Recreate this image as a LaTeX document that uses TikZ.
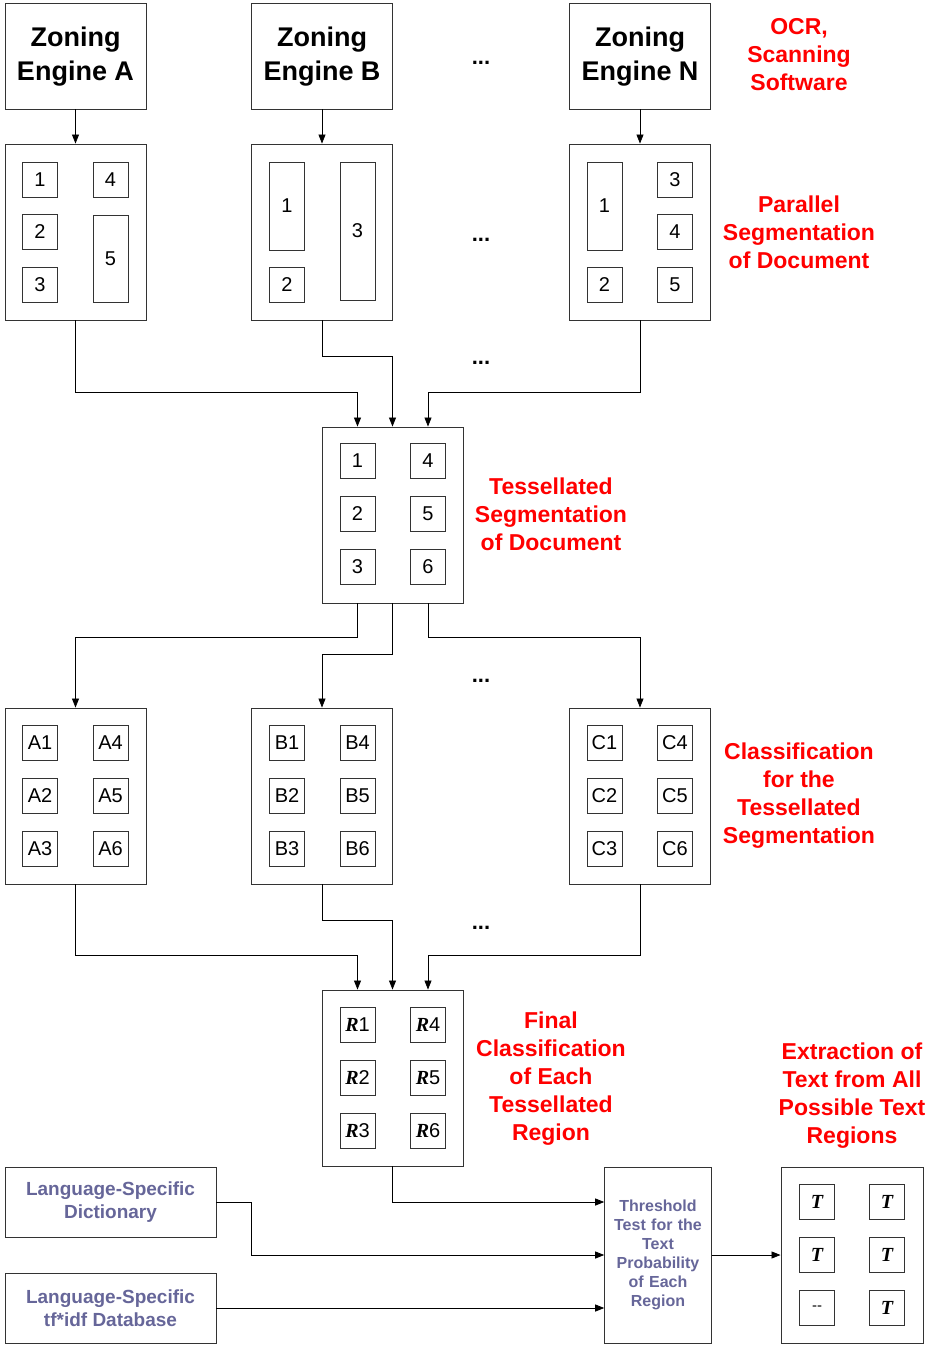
\documentclass[tikz,border=0pt]{standalone}
\usepackage{fontspec}
\setmainfont{Liberation Sans}
\newfontfamily\markfont{Liberation Serif}
\usepackage{xcolor}
\usetikzlibrary{arrows.meta, positioning, calc}

\definecolor{steptext}{RGB}{255,0,0}
\definecolor{dbtext}{RGB}{102,102,153}

\newcommand{\rmark}{{\markfont\bfseries\itshape R}}
\newcommand{\tmark}{{\markfont\bfseries\itshape T}}

\begin{document}
\begin{tikzpicture}[x=1pt, y=-1pt,
  engine/.style={draw=black!80, line width=0.9pt, minimum width=141pt, minimum height=106pt,
    align=center, font=\fontsize{27}{34}\selectfont\bfseries},
  page/.style={draw=black!80, line width=0.9pt, minimum width=141pt, minimum height=176pt},
  cell/.style={draw=black!80, line width=0.9pt, minimum width=35pt, minimum height=35pt,
    inner sep=0pt, font=\fontsize{20}{24}\selectfont},
  tallcell/.style={cell, minimum height=88pt},
  steplabel/.style={text=steptext, align=center, font=\fontsize{23}{28}\selectfont\bfseries},
  dots/.style={anchor=base, font=\fontsize{22}{26}\selectfont\bfseries},
  source/.style={draw=black!80, line width=0.9pt, minimum width=211pt, minimum height=70pt,
    align=center, text=dbtext, font=\fontsize{19}{23}\selectfont\bfseries},
  conn/.style={draw=black, line width=0.8pt, -{Triangle[length=9pt, width=7pt]}}
]
\useasboundingbox (0,0) rectangle (930,1345);

% Zoning engines
\node[engine] (engA) at (75.5,56) {};
\node[engine] (engB) at (322,56) {};
\node[engine] (engN) at (640,56) {};
\node[align=center, font=\fontsize{27}{34}\selectfont\bfseries] (engAtext) at (75.5,57) {Zoning\\Engine A};
\node[align=center, font=\fontsize{27}{34}\selectfont\bfseries] (engBtext) at (322,57) {Zoning\\Engine B};
\node[align=center, font=\fontsize{27}{34}\selectfont\bfseries] (engNtext) at (640,57) {Zoning\\Engine N};
\node[dots] (dots1) at (481,64) {...};
\node[steplabel] (ocr) at (799,55) {OCR,\\Scanning\\Software};

% Parallel segmentation, engine A
\node[page] (segA) at (75.5,232) {};
\node[cell] (a1) at (40,180) {1};
\node[cell] (a2) at (40,232) {2};
\node[cell] (a3) at (40,285) {3};
\node[cell] (a4) at (110.5,180) {4};
\node[cell, minimum height=87pt] (a5) at (110.5,258.5) {5};

% engine B
\node[page] (segB) at (322,232) {};
\node[tallcell] (b1) at (287,206) {1};
\node[cell] (b2) at (287,285) {2};
\node[cell, minimum height=138pt] (b3) at (357.5,231) {3};

% engine N
\node[page] (segN) at (640,232) {};
\node[tallcell] (n1) at (604.5,206) {1};
\node[cell] (n2) at (604.5,285) {2};
\node[cell] (n3) at (675,180) {3};
\node[cell] (n4) at (675,232) {4};
\node[cell] (n5) at (675,285) {5};

\node[dots] (dots2) at (481,241) {...};
\node[steplabel] (parallel) at (799,232) {Parallel\\Segmentation\\of Document};

% Tessellated segmentation
\node[page] (tess) at (392.5,515) {};
\node[cell] (t1) at (357.5,461) {1};
\node[cell] (t2) at (357.5,514) {2};
\node[cell] (t3) at (357.5,567) {3};
\node[cell] (t4) at (428,461) {4};
\node[cell] (t5) at (428,514) {5};
\node[cell] (t6) at (428,567) {6};
\node[dots] (dots3) at (481,364) {...};
\node[steplabel] (tesslabel) at (551,514) {Tessellated\\Segmentation\\of Document};

% Classification of the tessellated segmentation
\node[page] (clsA) at (75.5,796) {};
\node[cell] (ca1) at (40,743) {A1};
\node[cell] (ca2) at (40,796) {A2};
\node[cell] (ca3) at (40,849) {A3};
\node[cell] (ca4) at (110.5,743) {A4};
\node[cell] (ca5) at (110.5,796) {A5};
\node[cell] (ca6) at (110.5,849) {A6};

\node[page] (clsB) at (322,796) {};
\node[cell] (cb1) at (287,743) {B1};
\node[cell] (cb2) at (287,796) {B2};
\node[cell] (cb3) at (287,849) {B3};
\node[cell] (cb4) at (357.5,743) {B4};
\node[cell] (cb5) at (357.5,796) {B5};
\node[cell] (cb6) at (357.5,849) {B6};

\node[page] (clsC) at (640,796) {};
\node[cell] (cc1) at (604.5,743) {C1};
\node[cell] (cc2) at (604.5,796) {C2};
\node[cell] (cc3) at (604.5,849) {C3};
\node[cell] (cc4) at (675,743) {C4};
\node[cell] (cc5) at (675,796) {C5};
\node[cell] (cc6) at (675,849) {C6};

\node[dots] (dots4) at (481,682) {...};
\node[steplabel] (clslabel) at (799,796) {Classification\\for the\\Tessellated\\Segmentation};

% Final classification
\node[page] (fin) at (392.5,1078) {};
\node[cell] (r1) at (357.5,1025) {\rmark1};
\node[cell] (r2) at (357.5,1078) {\rmark2};
\node[cell] (r3) at (357.5,1131) {\rmark3};
\node[cell] (r4) at (428,1025) {\rmark4};
\node[cell] (r5) at (428,1078) {\rmark5};
\node[cell] (r6) at (428,1131) {\rmark6};
\node[dots] (dots5) at (481,929) {...};
\node[steplabel] (finlabel) at (551,1079) {Final\\Classification\\of Each\\Tessellated\\Region};

% Sources, threshold test and extracted text
\node[source] (dict) at (110.5,1202) {Language-Specific\\Dictionary};
\node[source] (tfidf) at (110.5,1308) {Language-Specific\\tf*idf Database};
\node[draw=black!80, line width=0.9pt, minimum width=106pt, minimum height=176pt,
  text width=100pt, align=center, text=dbtext, font=\fontsize{16}{19}\selectfont\bfseries]
  (thr) at (658,1255) {Threshold\\Test for the\\Text\\Probability\\of Each\\Region};

\node[page, minimum width=142pt] (tbox) at (852,1255) {};
\node[cell] (x1) at (817,1202) {\tmark};
\node[cell] (x2) at (817,1255) {\tmark};
\node[cell, font=\fontsize{15}{18}\selectfont] (x3) at (817,1308) {-{}-};
\node[cell] (x4) at (887,1202) {\tmark};
\node[cell] (x5) at (887,1255) {\tmark};
\node[cell] (x6) at (887,1308) {\tmark};
\node[steplabel] (extlabel) at (852,1095.5) {Extraction of\\Text from All\\Possible Text\\Regions};

% Connectors
\draw[conn] (engA) -- (segA);
\draw[conn] (engB) -- (segB);
\draw[conn] (engN) -- (segN);

\draw[conn] (segA.south) -- ++(0,72) -| (t1 |- tess.north);
\draw[conn] (segB.south) -- ++(0,36) -| (tess.north);
\draw[conn] (segN.south) -- ++(0,72) -| (t4 |- tess.north);

\draw[conn] (t1 |- tess.south) -- ++(0,34) -| (clsA.north);
\draw[conn] (tess.south) -- ++(0,51) -| (clsB.north);
\draw[conn] (t4 |- tess.south) -- ++(0,34) -| (clsC.north);

\draw[conn] (clsA.south) -- ++(0,71) -| (r1 |- fin.north);
\draw[conn] (clsB.south) -- ++(0,36) -| (fin.north);
\draw[conn] (clsC.south) -- ++(0,71) -| (r4 |- fin.north);

\draw[conn] (fin.south) |- (thr.west |- dict.east);
\draw[conn] (dict.east) -- ++(35,0) |- (thr.west);
\draw[conn] (tfidf.east) -- (thr.west |- tfidf.east);
\draw[conn] (thr) -- (tbox);

\end{tikzpicture}
\end{document}
